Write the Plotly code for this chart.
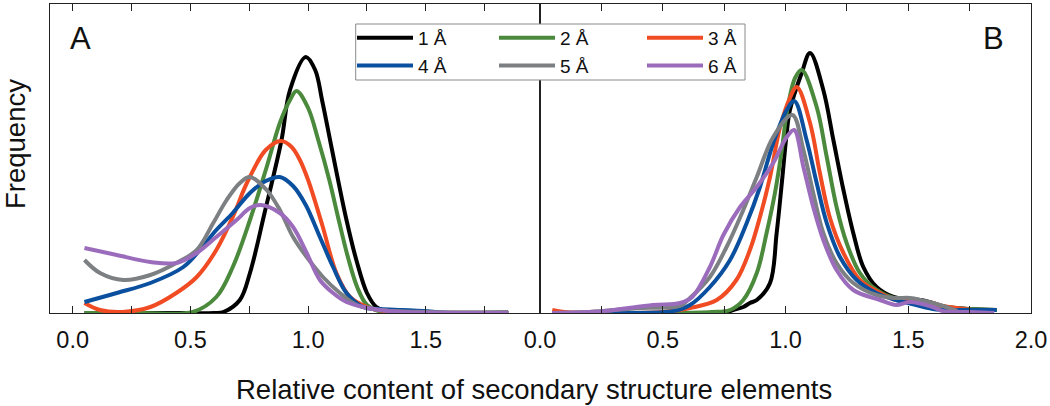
import plotly.graph_objects as go

# ---------------- data ----------------
labels = ["1 Å", "2 Å", "3 Å", "4 Å", "5 Å", "6 Å"]
colors = ["#000000", "#4b8a3c", "#f04b23", "#0b4f9f", "#7d8083", "#9b6cbc"]

# Panel A
a1_x = [0.05, 0.4, 0.6, 0.64, 0.71, 0.753, 0.815, 0.887, 0.923, 0.99, 1.03, 1.06, 1.10, 1.163, 1.206, 1.25, 1.29, 1.35, 1.5, 1.85]
a1_y = [0, 0, 0, 1, 13, 40, 100, 173, 223, 256, 243, 212, 165, 93, 52, 20, 6, 1, 0, 0]
a2_x = [0.05, 0.3, 0.51, 0.61, 0.68, 0.753, 0.824, 0.88, 0.923, 0.951, 1.0, 1.043, 1.09, 1.13, 1.17, 1.21, 1.25, 1.30, 1.4, 1.85]
a2_y = [0, 0, 1, 16, 46, 93, 146, 190, 213, 222, 205, 173, 133, 93, 55, 25, 8, 2, 0, 0]
a3_x = [0.05, 0.116, 0.21, 0.33, 0.44, 0.527, 0.61, 0.68, 0.74, 0.82, 0.885, 0.93, 0.965, 1.0, 1.06, 1.12, 1.178, 1.25, 1.35, 1.85]
a3_y = [10, 3, 1, 6, 20, 36, 63, 96, 130, 163, 172, 166, 153, 133, 88, 40, 16, 6, 1, 0]
a4_x = [0.05, 0.187, 0.33, 0.47, 0.54, 0.61, 0.68, 0.753, 0.82, 0.88, 0.936, 0.99, 1.05, 1.106, 1.163, 1.233, 1.305, 1.4, 1.49, 1.6, 1.85]
a4_y = [11, 20, 30, 46, 63, 83, 100, 120, 132, 136, 127, 108, 76, 46, 20, 6, 4, 3, 2, 0, 0]
a5_x = [0.05, 0.116, 0.215, 0.33, 0.44, 0.527, 0.597, 0.654, 0.71, 0.753, 0.824, 0.88, 0.936, 0.994, 1.063, 1.135, 1.206, 1.305, 1.5, 1.85]
a5_y = [53, 40, 33, 38, 50, 63, 90, 113, 130, 136, 123, 103, 76, 56, 36, 20, 8, 3, 1, 1]
a6_x = [0.05, 0.187, 0.33, 0.44, 0.527, 0.61, 0.696, 0.753, 0.80, 0.88, 0.936, 0.994, 1.05, 1.106, 1.163, 1.234, 1.305, 1.4, 1.85]
a6_y = [65, 58, 51, 50, 60, 76, 93, 105, 108, 100, 86, 60, 33, 20, 11, 6, 3, 1, 0]

# Panel B
b1_x = [0.05, 0.5, 0.70, 0.76, 0.787, 0.828, 0.855, 0.883, 0.937, 0.964, 0.985, 1.005, 1.018, 1.066, 1.1, 1.154, 1.195, 1.236, 1.276, 1.317, 1.371, 1.44, 1.5, 1.55, 1.60, 1.656, 1.75, 1.86]
b1_y = [0, 0, 0, 1, 3, 6, 10, 13, 30, 80, 130, 180, 203, 240, 260, 223, 173, 123, 80, 46, 26, 16, 14, 13, 10, 6, 4, 3]
b2_x = [0.05, 0.5, 0.70, 0.774, 0.828, 0.883, 0.923, 0.957, 0.985, 1.005, 1.039, 1.066, 1.127, 1.168, 1.208, 1.249, 1.303, 1.371, 1.44, 1.5, 1.55, 1.6, 1.656, 1.75, 1.86]
b2_y = [0, 0, 1, 3, 13, 40, 80, 120, 163, 200, 235, 243, 206, 156, 106, 70, 40, 23, 15, 13, 12, 9, 6, 4, 3]
b3_x = [0.05, 0.10, 0.3, 0.5, 0.611, 0.72, 0.80, 0.855, 0.896, 0.937, 0.978, 1.018, 1.046, 1.1, 1.14, 1.18, 1.236, 1.303, 1.385, 1.45, 1.507, 1.6, 1.64, 1.73, 1.80]
b3_y = [3, 1, 0, 1, 5, 13, 33, 63, 96, 136, 186, 215, 226, 190, 140, 96, 60, 33, 20, 13, 13, 10, 7, 4, 2]
b4_x = [0.05, 0.3, 0.543, 0.611, 0.692, 0.774, 0.842, 0.896, 0.95, 1.005, 1.036, 1.086, 1.127, 1.168, 1.222, 1.29, 1.37, 1.45, 1.5, 1.6, 1.7, 1.86]
b4_y = [0, 0, 2, 8, 26, 53, 90, 126, 170, 203, 212, 173, 130, 90, 56, 33, 20, 13, 10, 4, 3, 3]
b5_x = [0.05, 0.2, 0.41, 0.57, 0.611, 0.692, 0.76, 0.828, 0.883, 0.95, 1.028, 1.073, 1.113, 1.154, 1.208, 1.276, 1.37, 1.45, 1.507, 1.6, 1.7]
b5_y = [0, 1, 5, 7, 15, 36, 66, 103, 136, 176, 198, 163, 120, 80, 50, 30, 18, 15, 15, 10, 2]
b6_x = [0.05, 0.24, 0.46, 0.57, 0.62, 0.692, 0.747, 0.815, 0.883, 0.95, 1.005, 1.035, 1.073, 1.113, 1.154, 1.208, 1.276, 1.385, 1.45, 1.507, 1.6, 1.64, 1.75, 1.85]
b6_y = [0, 1.5, 8, 10, 16, 46, 78, 106, 126, 150, 176, 183, 146, 106, 73, 43, 23, 13, 8, 11, 6, 2, 1, 0]

panel_a = [(a1_x, a1_y), (a2_x, a2_y), (a3_x, a3_y), (a4_x, a4_y), (a5_x, a5_y), (a6_x, a6_y)]
panel_b = [(b1_x, b1_y), (b2_x, b2_y), (b3_x, b3_y), (b4_x, b4_y), (b5_x, b5_y), (b6_x, b6_y)]

x_ticks_a = [0.0, 0.5, 1.0, 1.5]
x_ticks_b = [0.0, 0.5, 1.0, 1.5, 2.0]

FONT = "Liberation Sans, Arial, Helvetica, sans-serif"

# ---------------- geometry (page pixels) ----------------
W, H = 1050, 406
L, R, T, B = 50, 19, 4, 93
PW, PH = W - L - R, H - T - B


def px(xp):
    return (xp - L) / PW


def py(yp):
    return (H - B - yp) / PH


legend_names = ["legend", "legend2", "legend3"]

fig = go.Figure()
for i, (xs, ys) in enumerate(panel_a):
    fig.add_trace(go.Scatter(x=xs, y=ys, mode="lines", name=labels[i], legendgroup=labels[i],
                             legend=legend_names[i % 3],
                             line=dict(color=colors[i], width=4, shape="spline", smoothing=1.0),
                             xaxis="x", yaxis="y", showlegend=True))
for i, (xs, ys) in enumerate(panel_b):
    fig.add_trace(go.Scatter(x=xs, y=ys, mode="lines", name=labels[i], legendgroup=labels[i],
                             legend=legend_names[i % 3],
                             line=dict(color=colors[i], width=4, shape="spline", smoothing=1.0),
                             xaxis="x2", yaxis="y2", showlegend=False))

split = px(540)

xcommon = dict(showline=True, linecolor="#222", linewidth=1.2, mirror="allticks",
               ticks="inside", ticklen=7, tickwidth=1.2, tickcolor="#222",
               minor=dict(dtick=0.25, ticks="inside", ticklen=7, tickwidth=1.2, tickcolor="#222"),
               tickformat=".1f", showgrid=False, zeroline=False,
               tickfont=dict(family=FONT, size=23.5, color="#111"), ticklabelstandoff=6)
ycommon = dict(showline=True, linecolor="#222", linewidth=1.2, mirror=True,
               showticklabels=False, ticks="", showgrid=False, zeroline=False, range=[0, 309])

leg_common = dict(orientation="v", xanchor="left", yanchor="top", borderwidth=0,
                  bgcolor="rgba(0,0,0,0)", itemwidth=56, tracegroupgap=0,
                  font=dict(family=FONT, size=19, color="#111"))
col_x = [352, 494, 642]
leg_top = 19

fig.update_layout(
    width=W, height=H,
    margin=dict(l=L, r=R, t=T, b=B),
    paper_bgcolor="white", plot_bgcolor="white",
    xaxis=dict(domain=[0, split], range=[-0.0964, 1.985], tickvals=x_ticks_a, **xcommon),
    xaxis2=dict(domain=[split, 1], range=[0, 2.0], tickvals=x_ticks_b, anchor="y2", **xcommon),
    yaxis=dict(domain=[0, 1], anchor="x", **ycommon),
    yaxis2=dict(domain=[0, 1], anchor="x2", **ycommon),
    legend=dict(x=px(col_x[0]), y=py(leg_top), **leg_common),
    legend2=dict(x=px(col_x[1]), y=py(leg_top), **leg_common),
    legend3=dict(x=px(col_x[2]), y=py(leg_top), **leg_common),
    shapes=[dict(type="rect", xref="paper", yref="paper", x0=px(355.7), x1=px(745), y0=py(80), y1=py(24),
                 line=dict(color="#8a8a8a", width=1), fillcolor="white", layer="above")],
    annotations=[
        dict(text="A", x=px(80), y=py(38), xref="paper", yref="paper", xanchor="center", yanchor="middle",
             showarrow=False, font=dict(family=FONT, size=31, color="#111")),
        dict(text="B", x=px(993), y=py(38), xref="paper", yref="paper", xanchor="center", yanchor="middle",
             showarrow=False, font=dict(family=FONT, size=31, color="#111")),
        dict(text="Frequency", x=px(16), y=py(144), xref="paper", yref="paper",
             xanchor="center", yanchor="middle",
             showarrow=False, textangle=-90, font=dict(family=FONT, size=27.5, color="#111")),
        dict(text="Relative content of secondary structure elements", x=px(534),
             y=py(389), xref="paper", yref="paper", xanchor="center", yanchor="middle", showarrow=False,
             font=dict(family=FONT, size=27.5, color="#111")),
    ],
)

fig.write_html("out.html", config={"displayModeBar": False},
               post_script="document.body.style.margin='0px';")
